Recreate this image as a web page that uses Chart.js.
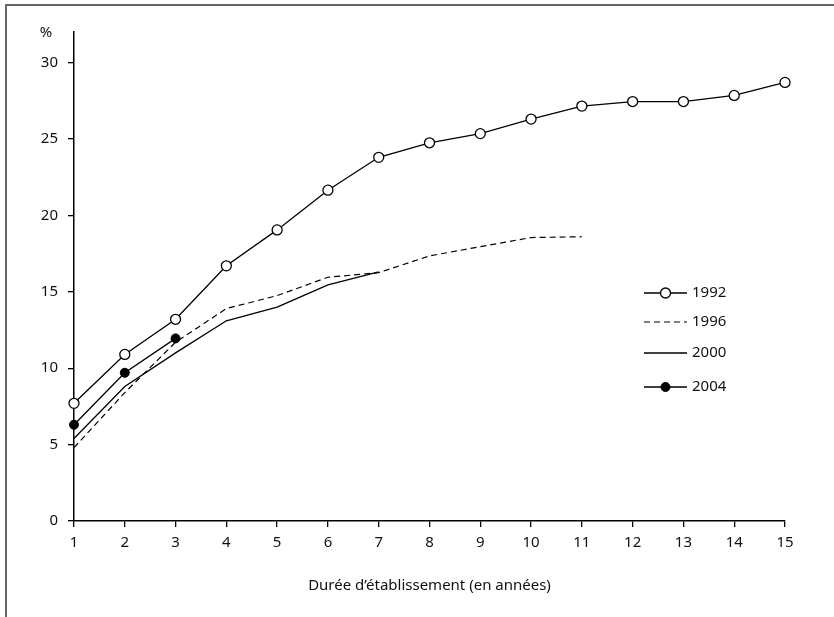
<!DOCTYPE html>
<html>
<head>
<meta charset="utf-8">
<script src="https://cdn.jsdelivr.net/npm/chart.js@4.4.1/dist/chart.umd.min.js"></script>
<style>
  html, body { margin: 0; padding: 0; background: #fff; }
  #wrap { position: relative; width: 834px; height: 617px; }
  #frame { position: absolute; left: 5px; top: 4px; right: 0; bottom: 0;
           border-top: 2px solid #666; border-left: 2px solid #666; pointer-events: none; }
</style>
</head>
<body>
<div id="wrap">
  <canvas id="chart" width="834" height="617"></canvas>
  <div id="frame"></div>
</div>
<script>
var years = ["1","2","3","4","5","6","7","8","9","10","11","12","13","14","15"];
var s1992 = [7.7, 10.9, 13.2, 16.7, 19.05, 21.65, 23.8, 24.75, 25.35, 26.3, 27.15, 27.45, 27.45, 27.85, 28.7];
var s1996 = [4.8, 8.4, 11.7, 13.9, 14.75, 15.95, 16.25, 17.35, 17.95, 18.55, 18.6];
var s2000 = [5.4, 8.8, 11.0, 13.1, 14.0, 15.45, 16.3];
var s2004 = [6.3, 9.7, 11.95];
var yTicks = [0, 5, 10, 15, 20, 25, 30];

var fontFamily = "'Noto Sans', sans-serif";
var fontSize = 15;

// legend drawn inside the plot, next to the curves
var legendPlugin = {
  id: "innerLegend",
  afterDraw: function (chart) {
    var ctx = chart.ctx;
    var x0 = 644, x1 = 687, ys = [293, 322, 353, 387];
    chart.data.datasets.forEach(function (ds, i) {
      var y = ys[i];
      ctx.save();
      ctx.strokeStyle = "#000";
      ctx.lineWidth = ds.borderWidth;
      ctx.setLineDash(ds.borderDash || []);
      ctx.beginPath();
      ctx.moveTo(x0, y);
      ctx.lineTo(x1, y);
      ctx.stroke();
      ctx.setLineDash([]);
      if (ds.pointRadius > 0) {
        ctx.beginPath();
        ctx.arc((x0 + x1) / 2, y, ds.pointRadius, 0, Math.PI * 2);
        ctx.fillStyle = ds.pointBackgroundColor;
        ctx.fill();
        ctx.lineWidth = ds.pointBorderWidth;
        ctx.stroke();
      }
      ctx.fillStyle = "#111";
      ctx.font = fontSize + "px " + fontFamily;
      ctx.textBaseline = "middle";
      ctx.fillText(ds.label, x1 + 5, y);
      ctx.restore();
    });
    // percent sign above the y axis
    ctx.save();
    ctx.fillStyle = "#111";
    ctx.font = fontSize + "px " + fontFamily;
    ctx.textAlign = "center";
    ctx.textBaseline = "middle";
    ctx.fillText("%", 46, 33);
    ctx.restore();
  }
};

var ctx = document.getElementById("chart").getContext("2d");
new Chart(ctx, {
  type: "line",
  data: {
    labels: years,
    datasets: [
      { label: "1992", data: s1992, borderColor: "#000", borderWidth: 1.3,
        pointRadius: 5, pointBackgroundColor: "#fff", pointBorderColor: "#000", pointBorderWidth: 1.3 },
      { label: "1996", data: s1996, borderColor: "#000", borderWidth: 1.2, borderDash: [6, 4],
        pointRadius: 0 },
      { label: "2000", data: s2000, borderColor: "#000", borderWidth: 1.3,
        pointRadius: 0 },
      { label: "2004", data: s2004, borderColor: "#000", borderWidth: 1.3,
        pointRadius: 4.5, pointBackgroundColor: "#000", pointBorderColor: "#000", pointBorderWidth: 1 }
    ]
  },
  options: {
    responsive: false,
    animation: false,
    layout: { padding: { top: 32, right: 49, left: 0, bottom: 0 } },
    plugins: { legend: { display: false }, tooltip: { enabled: false } },
    scales: {
      x: {
        offset: false,
        grid: { drawOnChartArea: false, drawTicks: true, tickLength: 6, color: "#000", lineWidth: 1.3 },
        border: { display: true, color: "#000", width: 1.5 },
        ticks: { color: "#111", font: { family: fontFamily, size: fontSize }, padding: 7, maxRotation: 0, autoSkip: false },
        title: { display: true, text: "Durée d’établissement (en années)", color: "#111",
                 font: { family: fontFamily, size: fontSize }, padding: { top: 4, bottom: 22 } },
        afterFit: function (scale) { scale.height = 96; }
      },
      y: {
        min: 0,
        max: 32,
        grid: { drawOnChartArea: false, drawTicks: true, tickLength: 6, color: "#000", lineWidth: 1.3 },
        border: { display: true, color: "#000", width: 1.5 },
        afterBuildTicks: function (scale) {
          scale.ticks = yTicks.map(function (v) { return { value: v }; });
        },
        ticks: { color: "#111", font: { family: fontFamily, size: fontSize }, padding: 10 },
        afterFit: function (scale) { scale.width = 74; }
      }
    }
  },
  plugins: [legendPlugin]
});
</script>
</body>
</html>
